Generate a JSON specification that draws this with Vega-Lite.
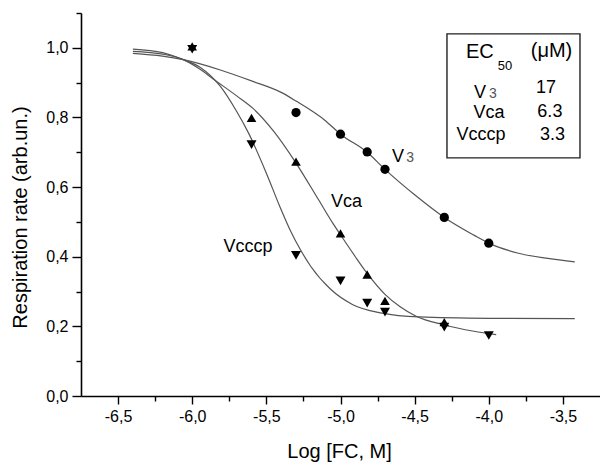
{
  "$schema": "https://vega.github.io/schema/vega-lite/v6.json",
  "width": 519,
  "height": 383,
  "autosize": {"type": "none"},
  "padding": {"left": 81, "top": 13, "right": 0, "bottom": 66},
  "background": "white",
  "config": {
    "view": {"stroke": null},
    "font": "Liberation Sans",
    "axis": {
      "grid": false,
      "domainColor": "#000",
      "domainWidth": 1.6,
      "tickColor": "#000",
      "tickWidth": 1.4,
      "labelColor": "#000",
      "labelFont": "Liberation Sans",
      "labelFontSize": 16,
      "titleFont": "Liberation Sans",
      "titleFontSize": 20,
      "titleFontWeight": "normal",
      "titleColor": "#000",
      "labelFlush": false,
      "labelOverlap": false
    }
  },
  "datasets": {
    "points": [
      {"series": "Vca", "x": -6.0, "y": 1.0},
      {"series": "Vcccp", "x": -6.0, "y": 1.0},
      {"series": "V3", "x": -5.3, "y": 0.814},
      {"series": "V3", "x": -5.0, "y": 0.752},
      {"series": "V3", "x": -4.82, "y": 0.701},
      {"series": "V3", "x": -4.7, "y": 0.651},
      {"series": "V3", "x": -4.3, "y": 0.513},
      {"series": "V3", "x": -4.0, "y": 0.439},
      {"series": "Vca", "x": -5.6, "y": 0.795},
      {"series": "Vca", "x": -5.3, "y": 0.669},
      {"series": "Vca", "x": -5.0, "y": 0.463},
      {"series": "Vca", "x": -4.82, "y": 0.345},
      {"series": "Vca", "x": -4.7, "y": 0.269},
      {"series": "Vca", "x": -4.3, "y": 0.208},
      {"series": "Vcccp", "x": -5.6, "y": 0.726},
      {"series": "Vcccp", "x": -5.3, "y": 0.408},
      {"series": "Vcccp", "x": -5.0, "y": 0.335},
      {"series": "Vcccp", "x": -4.82, "y": 0.271},
      {"series": "Vcccp", "x": -4.7, "y": 0.245},
      {"series": "Vcccp", "x": -4.3, "y": 0.202},
      {"series": "Vcccp", "x": -4.0, "y": 0.178}
    ],
    "curves": [
      {"series": "V3", "x": -6.4, "y": 0.984},
      {"series": "V3", "x": -6.2, "y": 0.976},
      {"series": "V3", "x": -6.06, "y": 0.966},
      {"series": "V3", "x": -5.8, "y": 0.935},
      {"series": "V3", "x": -5.6, "y": 0.905},
      {"series": "V3", "x": -5.4, "y": 0.872},
      {"series": "V3", "x": -5.3, "y": 0.847},
      {"series": "V3", "x": -5.1, "y": 0.79},
      {"series": "V3", "x": -5.0, "y": 0.752},
      {"series": "V3", "x": -4.82, "y": 0.7},
      {"series": "V3", "x": -4.7, "y": 0.651},
      {"series": "V3", "x": -4.5, "y": 0.578},
      {"series": "V3", "x": -4.3, "y": 0.513},
      {"series": "V3", "x": -4.1, "y": 0.462},
      {"series": "V3", "x": -4.0, "y": 0.439},
      {"series": "V3", "x": -3.8, "y": 0.41},
      {"series": "V3", "x": -3.6, "y": 0.395},
      {"series": "V3", "x": -3.42, "y": 0.385},
      {"series": "Vca", "x": -6.4, "y": 0.99},
      {"series": "Vca", "x": -6.2, "y": 0.982},
      {"series": "Vca", "x": -6.06, "y": 0.966},
      {"series": "Vca", "x": -5.96, "y": 0.942},
      {"series": "Vca", "x": -5.84, "y": 0.905},
      {"series": "Vca", "x": -5.7, "y": 0.862},
      {"series": "Vca", "x": -5.59, "y": 0.826},
      {"series": "Vca", "x": -5.45, "y": 0.76},
      {"series": "Vca", "x": -5.3, "y": 0.669},
      {"series": "Vca", "x": -5.15, "y": 0.565},
      {"series": "Vca", "x": -5.05, "y": 0.495},
      {"series": "Vca", "x": -5.0, "y": 0.463},
      {"series": "Vca", "x": -4.9, "y": 0.4},
      {"series": "Vca", "x": -4.82, "y": 0.352},
      {"series": "Vca", "x": -4.7, "y": 0.292},
      {"series": "Vca", "x": -4.6, "y": 0.257},
      {"series": "Vca", "x": -4.49, "y": 0.229},
      {"series": "Vca", "x": -4.3, "y": 0.204},
      {"series": "Vca", "x": -4.1, "y": 0.186},
      {"series": "Vca", "x": -3.95, "y": 0.176},
      {"series": "Vcccp", "x": -6.4, "y": 0.996},
      {"series": "Vcccp", "x": -6.2, "y": 0.986},
      {"series": "Vcccp", "x": -6.06, "y": 0.966},
      {"series": "Vcccp", "x": -5.95, "y": 0.945},
      {"series": "Vcccp", "x": -5.81, "y": 0.889},
      {"series": "Vcccp", "x": -5.7, "y": 0.817},
      {"series": "Vcccp", "x": -5.62, "y": 0.755},
      {"series": "Vcccp", "x": -5.5, "y": 0.64},
      {"series": "Vcccp", "x": -5.41, "y": 0.545},
      {"series": "Vcccp", "x": -5.34, "y": 0.477},
      {"series": "Vcccp", "x": -5.27, "y": 0.42},
      {"series": "Vcccp", "x": -5.2, "y": 0.372},
      {"series": "Vcccp", "x": -5.07, "y": 0.308},
      {"series": "Vcccp", "x": -4.92, "y": 0.263},
      {"series": "Vcccp", "x": -4.72, "y": 0.238},
      {"series": "Vcccp", "x": -4.47, "y": 0.227},
      {"series": "Vcccp", "x": -4.0, "y": 0.223},
      {"series": "Vcccp", "x": -3.42, "y": 0.222}
    ],
    "texts": [
      {"role": "name", "x": -4.96, "y": 0.543, "text": "Vca"},
      {"role": "name", "x": -5.624, "y": 0.414, "text": "Vcccp"},
      {"role": "name", "x": -4.612, "y": 0.672, "text": "V"},
      {"role": "sub3", "x": -4.531, "y": 0.672, "text": "3"},
      {"role": "header", "x": -4.06, "y": 0.971, "text": "EC"},
      {"role": "sub50", "x": -3.891, "y": 0.937, "text": "50"},
      {"role": "header", "x": -3.577, "y": 0.973, "text": "(μM)"},
      {"role": "name", "x": -4.06, "y": 0.856, "text": "V"},
      {"role": "sub3", "x": -3.972, "y": 0.856, "text": "3"},
      {"role": "name", "x": -3.614, "y": 0.871, "text": "17"},
      {"role": "name", "x": -3.999, "y": 0.799, "text": "Vca"},
      {"role": "name", "x": -3.588, "y": 0.802, "text": "6.3"},
      {"role": "name", "x": -4.053, "y": 0.736, "text": "Vcccp"},
      {"role": "name", "x": -3.571, "y": 0.736, "text": "3.3"}
    ],
    "box": [
      {"x1": -4.282, "x2": -3.385, "y1": 0.684, "y2": 1.04}
    ]
  },
  "layer": [
    {
      "data": {"name": "curves"},
      "mark": {"type": "line", "color": "#555", "strokeWidth": 1.2, "interpolate": "monotone"},
      "encoding": {
        "detail": {"field": "series", "type": "nominal"},
        "x": {
          "field": "x", "type": "quantitative",
          "scale": {"domain": [-6.75, -3.25], "nice": false, "zero": false},
          "axis": {
            "orient": "bottom",
            "values": [-6.5, -6, -5.5, -5, -4.5, -4, -3.5],
            "tickSize": 8,
            "labelPadding": 4,
            "labelBaseline": "top",
            "labelExpr": "replace(replace(format(datum.value, '.1f'), '.', ','), '\u2212', '-')",
            "title": "Log [FC, M]",
            "titleX": 258,
            "titleY": 61,
            "titleAlign": "center",
            "titleBaseline": "alphabetic"
          }
        },
        "y": {
          "field": "y", "type": "quantitative",
          "scale": {"domain": [0, 1.1], "nice": false, "zero": false},
          "axis": {
            "orient": "left",
            "values": [0, 0.2, 0.4, 0.6, 0.8, 1.0],
            "tickSize": 9,
            "labelPadding": 4,
            "labelExpr": "replace(format(datum.value, '.1f'), '.', ',')",
            "title": "Respiration rate (arb.un.)",
            "titleX": -61,
            "titleY": 204,
            "titleAngle": 270,
            "titleAlign": "center",
            "titleBaseline": "middle"
          }
        }
      }
    },
    {
      "data": {"name": "points"},
      "mark": {"type": "point", "filled": true, "opacity": 1, "color": "#000"},
      "encoding": {
        "x": {
          "field": "x", "type": "quantitative",
          "scale": {"domain": [-6.75, -3.25], "nice": false, "zero": false},
          "axis": {
            "orient": "bottom",
            "values": [-6.25, -5.75, -5.25, -4.75, -4.25, -3.75],
            "tickSize": 5,
            "labels": false,
            "domain": false,
            "title": null
          }
        },
        "y": {
          "field": "y", "type": "quantitative",
          "scale": {"domain": [0, 1.1], "nice": false, "zero": false},
          "axis": {
            "orient": "left",
            "values": [0.1, 0.3, 0.5, 0.7, 0.9, 1.1],
            "tickSize": 5,
            "labels": false,
            "domain": false,
            "title": null
          }
        },
        "shape": {
          "field": "series", "type": "nominal",
          "scale": {
            "domain": ["V3", "Vca", "Vcccp"],
            "range": ["circle", "M0,-1.155L1,0.577L-1,0.577Z", "M0,1.155L1,-0.577L-1,-0.577Z"]
          },
          "legend": null
        },
        "size": {
          "field": "series", "type": "nominal",
          "scale": {"domain": ["V3", "Vca", "Vcccp"], "range": [85, 100, 100]},
          "legend": null
        }
      }
    },
    {
      "data": {"name": "box"},
      "mark": {"type": "rect", "fill": null, "stroke": "#222", "strokeWidth": 1.4},
      "encoding": {
        "x": {"field": "x1", "type": "quantitative", "axis": null},
        "x2": {"field": "x2"},
        "y": {"field": "y1", "type": "quantitative", "axis": null},
        "y2": {"field": "y2"}
      }
    },
    {
      "data": {"name": "texts"},
      "transform": [{"filter": "datum.role === 'name'"}],
      "mark": {"type": "text", "fontSize": 18, "align": "center", "baseline": "alphabetic", "color": "#000", "font": "Liberation Sans"},
      "encoding": {
        "x": {"field": "x", "type": "quantitative", "axis": null},
        "y": {"field": "y", "type": "quantitative", "axis": null},
        "text": {"field": "text"}
      }
    },
    {
      "data": {"name": "texts"},
      "transform": [{"filter": "datum.role === 'header'"}],
      "mark": {"type": "text", "fontSize": 20, "align": "center", "baseline": "alphabetic", "color": "#000", "font": "Liberation Sans"},
      "encoding": {
        "x": {"field": "x", "type": "quantitative", "axis": null},
        "y": {"field": "y", "type": "quantitative", "axis": null},
        "text": {"field": "text"}
      }
    },
    {
      "data": {"name": "texts"},
      "transform": [{"filter": "datum.role === 'sub50'"}],
      "mark": {"type": "text", "fontSize": 13, "align": "center", "baseline": "alphabetic", "color": "#000", "font": "Liberation Sans"},
      "encoding": {
        "x": {"field": "x", "type": "quantitative", "axis": null},
        "y": {"field": "y", "type": "quantitative", "axis": null},
        "text": {"field": "text"}
      }
    },
    {
      "data": {"name": "texts"},
      "transform": [{"filter": "datum.role === 'sub3'"}],
      "mark": {"type": "text", "fontSize": 14, "align": "center", "baseline": "alphabetic", "color": "#555", "font": "Liberation Sans"},
      "encoding": {
        "x": {"field": "x", "type": "quantitative", "axis": null},
        "y": {"field": "y", "type": "quantitative", "axis": null},
        "text": {"field": "text"}
      }
    }
  ],
  "resolve": {"axis": {"x": "independent", "y": "independent"}}
}
